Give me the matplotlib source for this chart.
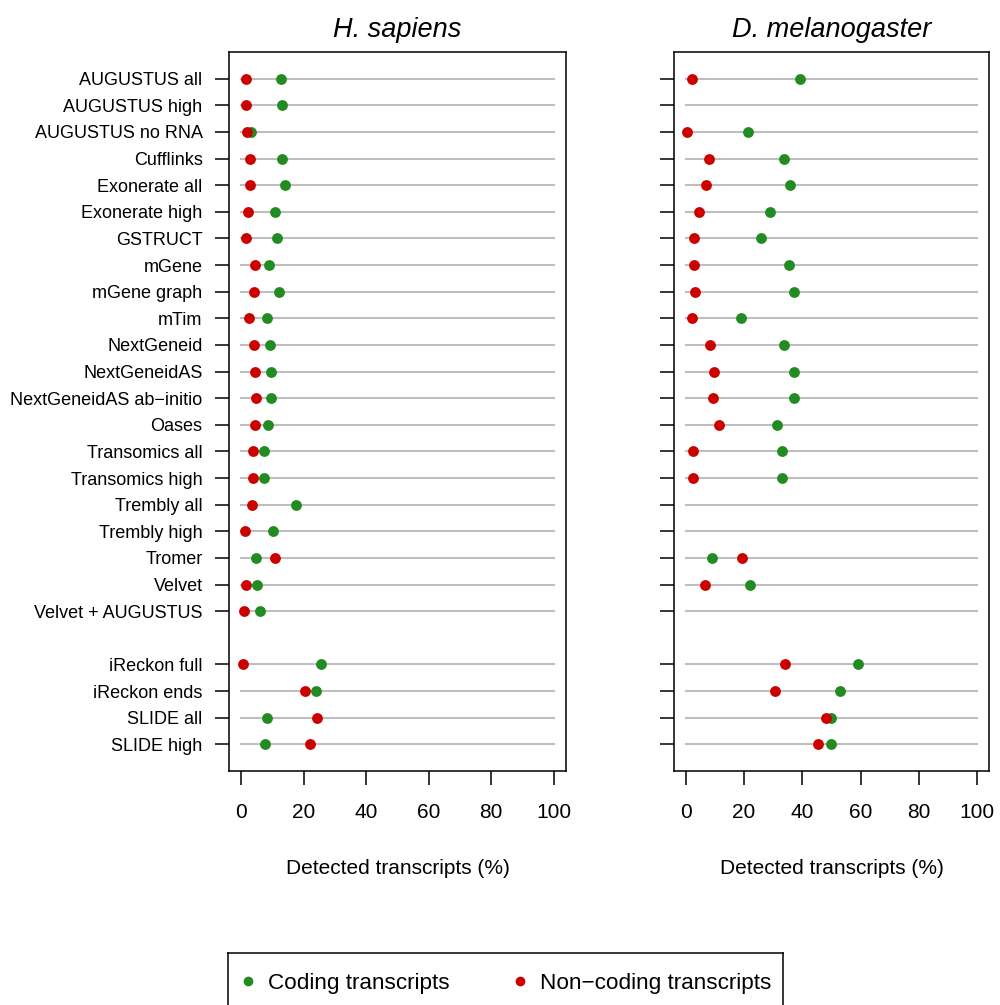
import numpy as np
import matplotlib
matplotlib.use("Agg")
import matplotlib.pyplot as plt
from matplotlib.lines import Line2D

plt.rcParams['font.family'] = ['Liberation Sans', 'DejaVu Sans']

# methods, top to bottom (None = empty spacer row)
methods = ["AUGUSTUS all", "AUGUSTUS high", "AUGUSTUS no RNA", "Cufflinks",
           "Exonerate all", "Exonerate high", "GSTRUCT", "mGene", "mGene graph",
           "mTim", "NextGeneid", "NextGeneidAS", "NextGeneidAS ab\u2212initio",
           "Oases", "Transomics all", "Transomics high", "Trembly all",
           "Trembly high", "Tromer", "Velvet", "Velvet + AUGUSTUS", None,
           "iReckon full", "iReckon ends", "SLIDE all", "SLIDE high"]

nan = np.nan
# H. sapiens (% detected)
hs_coding = [12.8, 12.9, 3.0, 13.0, 13.9, 10.9, 11.4, 8.9, 11.9, 8.3, 9.2,
             9.6, 9.6, 8.5, 7.1, 7.1, 17.4, 10.2, 4.8, 4.9, 5.9, nan,
             25.5, 24.0, 8.2, 7.6]
hs_noncoding = [1.6, 1.6, 1.9, 2.8, 2.8, 2.0, 1.3, 4.4, 3.9, 2.5, 4.0,
                4.3, 4.6, 4.4, 3.8, 3.7, 3.4, 1.2, 10.8, 1.6, 0.9, nan,
                0.4, 20.2, 24.3, 21.9]
# D. melanogaster (% detected)
dm_coding = [39.3, nan, 21.4, 33.6, 35.7, 28.8, 25.9, 35.4, 37.1, 19.1, 33.6,
             37.0, 37.0, 31.3, 32.9, 32.9, nan, nan, 8.9, 22.2, nan, nan,
             59.1, 53.0, 49.7, 49.7]
dm_noncoding = [2.3, nan, 0.3, 8.1, 7.0, 4.5, 2.7, 3.0, 3.2, 2.2, 8.5,
                9.6, 9.3, 11.5, 2.6, 2.6, nan, nan, 19.2, 6.5, nan, nan,
                34.0, 30.5, 48.1, 45.4]

green = "#228B22"
red = "#CD0000"

fig = plt.figure(figsize=(10, 10.05), dpi=100)
H = 1005.0
bot = (H - 771) / H
hgt = 719 / H
ax1 = fig.add_axes([0.229, bot, 0.337, hgt])
ax2 = fig.add_axes([0.674, bot, 0.315, hgt])

ypos = np.arange(len(methods))
rows = [i for i, m in enumerate(methods) if m is not None]

for ax, cod, nonc, title, labels in [
        (ax1, hs_coding, hs_noncoding, "H. sapiens", True),
        (ax2, dm_coding, dm_noncoding, "D. melanogaster", False)]:
    for i in rows:
        ax.plot([0, 100], [i, i], color="#BEBEBE", lw=1.5, zorder=1)
    ax.plot(cod, ypos, "o", color=green, ms=7.8, mec="none", zorder=2)
    ax.plot(nonc, ypos, "o", color=red, ms=7.8, mec="none", zorder=3)
    ax.set_xlim(-4, 104)
    ax.set_ylim(len(methods), -1)
    ax.set_xticks(np.arange(0, 101, 20))
    ax.set_yticks(rows)
    if labels:
        ax.set_yticklabels([methods[i] for i in rows])
    else:
        ax.set_yticklabels([])
    ax.tick_params(axis="both", direction="out", length=10, width=1.1)
    ax.tick_params(axis="y", labelsize=13, pad=9)
    ax.tick_params(axis="x", labelsize=15, pad=13)
    for s in ax.spines.values():
        s.set_linewidth(1.1)
    ax.set_title(title, style="italic", fontsize=19.5, pad=11)
    ax.set_xlabel("Detected transcripts (%)", fontsize=15, labelpad=27)

# legend box (bottom is cut off by the figure edge)
lax = fig.add_axes([0.228, -0.05, 0.555, (H - 953) / H + 0.05])
lax.set_xlim(0, 1)
lax.set_ylim(0, 1)
lax.set_xticks([])
lax.set_yticks([])
for s in lax.spines.values():
    s.set_linewidth(1.1)
ly = (H - 983) / H
handles = [Line2D([], [], ls="none", marker="o", color=green, ms=7, mec="none"),
           Line2D([], [], ls="none", marker="o", color=red, ms=7, mec="none")]
fig.legend(handles, ["Coding transcripts", "Non\u2212coding transcripts"],
           loc="center left", bbox_to_anchor=(0.216, ly), ncol=2, frameon=False,
           fontsize=16.2, handletextpad=0.4, columnspacing=2.65, handlelength=1.0)

fig.savefig("out.png", dpi=100)
